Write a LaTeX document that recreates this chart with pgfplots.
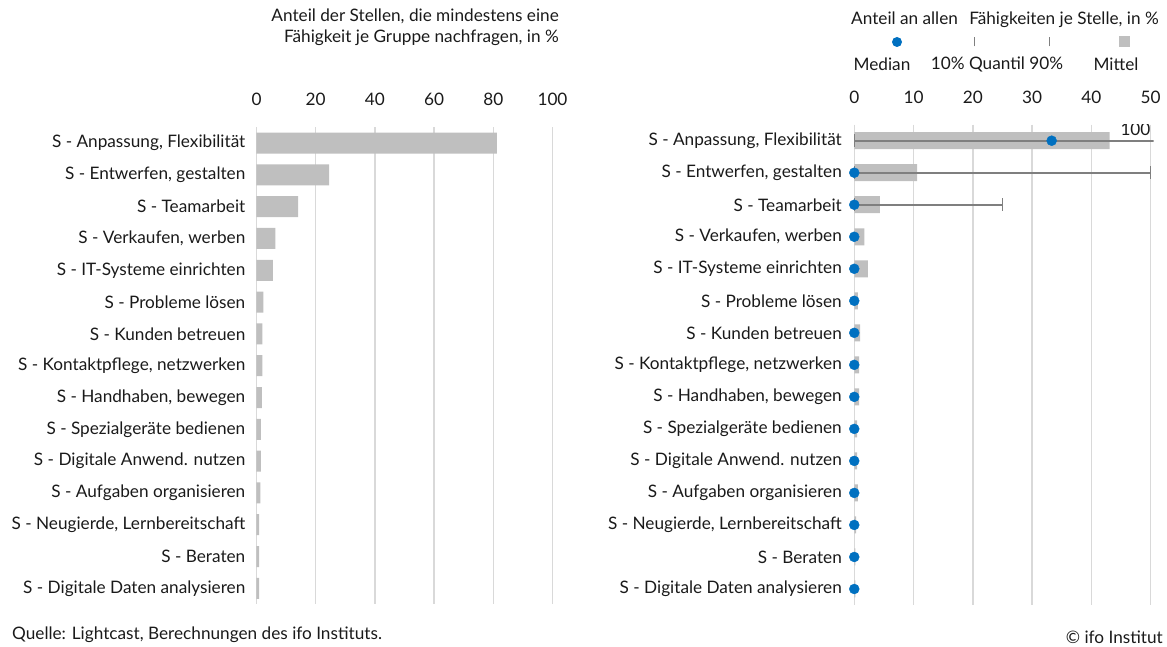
\documentclass[border=0pt]{standalone}
\usepackage{pgfplots}
\pgfplotsset{compat=1.18}
\usepackage{pgfplotstable}
\usepackage{fontspec}
\setmainfont{Lato}
\definecolor{barg}{RGB}{191,191,191}
\definecolor{gridg}{RGB}{217,217,217}
\definecolor{whisk}{RGB}{127,127,127}
\definecolor{medblue}{RGB}{0,112,192}
\definecolor{txt}{RGB}{26,26,26}

\pgfplotstableread{
row share
1 81.2
2 24.5
3 14.1
4 6.4
5 5.5
6 2.3
7 2.0
8 2.0
9 1.8
10 1.5
11 1.5
12 1.3
13 0.9
14 0.9
15 0.9
}\leftdata

\pgfplotstableread{
row mean median
1 43.1 33.3
2 10.6 0
3 4.3 0
4 1.7 0
5 2.3 0
6 0.6 0
7 1.0 0
8 0.8 0
9 0.8 0
10 0.5 0
11 0.5 0
12 0.6 0
13 0.3 0
14 0.2 0
15 0.2 0
}\rightdata

% 10% and 90% quantiles (whiskers), one segment per row
\pgfplotstableread{
q row
0 1
100 1
nan nan
0 2
50 2
nan nan
0 3
25 3
}\whiskdata

\newcommand{\fs}{\fontsize{17.2}{20}\selectfont}

\begin{document}
\begin{tikzpicture}[font=\fs, text=txt]
\useasboundingbox (0pt,0pt) rectangle (1167pt,647pt);
\providecommand{\comma}{,}
\pgfplotsset{
  myaxis/.style={
    scale only axis,
    y dir=reverse,
    ymin=0.5, ymax=15.5,
    ytick={1,...,15},
    yticklabels={
      S - Anpassung\comma{} Flexibilität,
      S - Entwerfen\comma{} gestalten,
      S - Teamarbeit,
      S - Verkaufen\comma{} werben,
      S - IT-Systeme einrichten,
      S - Probleme lösen,
      S - Kunden betreuen,
      S - Kontaktpflege\comma{} netzwerken,
      S - Handhaben\comma{} bewegen,
      S - Spezialgeräte bedienen,
      S - Digitale Anwend. nutzen,
      S - Aufgaben organisieren,
      S - Neugierde\comma{} Lernbereitschaft,
      S - Beraten,
      S - Digitale Daten analysieren},
    axis line style={draw=none},
    major tick length=0pt,
    xmajorgrids,
    grid style={gridg, line width=1.5pt},
    xticklabel pos=upper,
    tick label style={font=\fs, text=txt},
    xticklabel style={anchor=south, inner sep=0pt, yshift=21pt},
    yticklabel style={anchor=east, inner sep=0pt, xshift=-11pt},
    /pgf/number format/assume math mode=true,
  }
}
% left axis
\begin{axis}[myaxis, at={(256.5pt,42.8pt)}, anchor=south west,
  width=296pt, height=477pt, xmin=0, xmax=100, xtick={0,20,...,100}]
\addplot[xbar, bar width=21pt, fill=barg, draw=none] table[x=share, y=row] {\leftdata};
\end{axis}
% right axis
\begin{axis}[myaxis, at={(851.3pt,42pt)}, anchor=south west,
  width=302.3pt, height=480.3pt, xmin=-0.5, xmax=50.5, xtick={0,10,...,50},
  yticklabel style={xshift=1.7pt}, unbounded coords=jump]
\addplot[xbar, bar width=17pt, fill=barg, draw=none] table[x=mean, y=row] {\rightdata};
\addplot[whisk, line width=2pt, mark=|, mark size=6.5pt, mark options={solid, line width=1.5pt, draw=whisk}]
  table[x=q, y=row] {\whiskdata};
\addplot[only marks, mark=*, mark size=5pt, mark options={draw=medblue, fill=medblue}]
  table[x=median, y=row] {\rightdata};
\node[anchor=south east, inner sep=0pt, yshift=5pt] at (axis cs:50,1) {100};
\end{axis}
% left title
\node[anchor=north east, align=right, inner sep=0pt] at (559pt,638pt)
  {Anteil der Stellen, die mindestens eine\\[1pt]Fähigkeit je Gruppe nachfragen, in \%};
% right legend
\node[inner sep=0pt] at (1005pt,627pt) {Anteil an allen\hspace{0.4em} Fähigkeiten je Stelle, in \%};
\fill[medblue] (897pt,605pt) circle (5pt);
\draw[whisk, line width=1pt] (974pt,600.5pt) -- (974pt,609.5pt);
\draw[whisk, line width=1pt] (1049pt,600.5pt) -- (1049pt,609.5pt);
\fill[barg] (1118.5pt,599.5pt) rectangle (1129.5pt,610.5pt);
\node[inner sep=0pt] at (882pt,583pt) {Median};
\node[inner sep=0pt] at (997pt,583pt) {10\% Quantil 90\%};
\node[inner sep=0pt] at (1116pt,583pt) {Mittel};
% footer
\node[anchor=west, inner sep=0pt] at (12pt,12pt) {Quelle: Lightcast, Berechnungen des ifo Instituts.};
\node[anchor=east, inner sep=0pt] at (1163pt,10pt) {© ifo Institut};
\end{tikzpicture}
\end{document}
